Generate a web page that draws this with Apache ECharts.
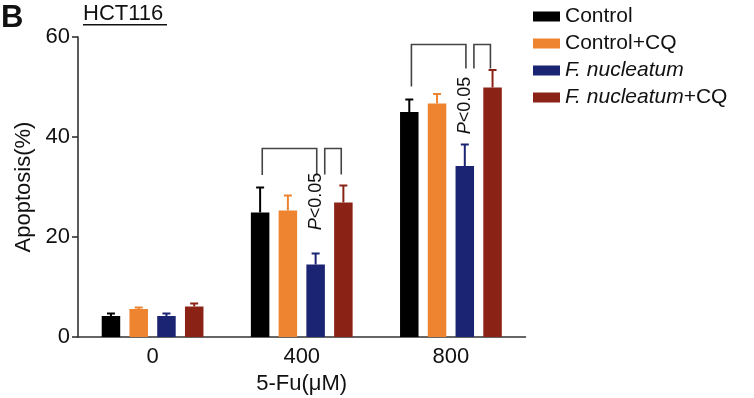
<!DOCTYPE html>
<html>
<head>
<meta charset="utf-8">
<title>HCT116 apoptosis</title>
<script src="https://cdn.jsdelivr.net/npm/echarts@6/dist/echarts.min.js"></script>
<style>
    html, body { margin: 0; padding: 0; background: #fff; }
    #chart { width: 754px; height: 398px; }
</style>
</head>
<body>
<div id="chart"></div>
<script>
// 数据
var categories = ['0', '400', '800'];
var seriesNames = ['Control', 'Control+CQ', 'F. nucleatum', 'F. nucleatum+CQ'];
var control     = [4.2, 24.9, 45.0];
var controlCQ   = [5.6, 25.3, 46.7];
var fn          = [4.2, 14.5, 34.2];
var fnCQ        = [6.1, 26.9, 49.9];
// 误差（只画上半部分）
var controlErr   = [0.5, 5.0, 2.5];
var controlCQErr = [0.3, 3.0, 1.9];
var fnErr        = [0.5, 2.2, 4.3];
var fnCQErr      = [0.6, 3.4, 3.5];
var yTicks = [0, 20, 40, 60];

// 显著性括号（400 和 800 两组）
var bracketCats   = [1, 2];
var bracketTop    = [37.7, 58.5];
var bigLeftEnd    = [32.4, 50.1];
var bigRightEnd   = [32.5, 53.7];
var smallEnd      = [32.5, 53.7];
var pLabelMid     = [27.1, 46.3];
var pLabel = 'P<0.05';

var values = [control, controlCQ, fn, fnCQ];
var errors = [controlErr, controlCQErr, fnErr, fnCQErr];
var colors = ['#000000', '#EE8430', '#1B2473', '#8A2215'];

var FONT = 'Liberation Sans, Arial, Helvetica, sans-serif';
var BAR_W = 18.5;
var SLOT = BAR_W * 1.5;   // 柱宽 + 柱间距 (barGap 50%)

var chart = echarts.init(document.getElementById('chart'));

// 误差线数据
var errData = [];
values.forEach(function (vals, k) {
    vals.forEach(function (v, i) {
        errData.push([i, k, v, v + errors[k][i]]);
    });
});

// 括号数据
var bracketData = [];
bracketCats.forEach(function (c, j) {
    bracketData.push([c, bracketTop[j], bigLeftEnd[j], bigRightEnd[j], 0]);
    bracketData.push([c, bracketTop[j], smallEnd[j], smallEnd[j], 1]);
});
var pData = bracketCats.map(function (c, j) { return [c, pLabelMid[j]]; });

function renderErr(params, api) {
    var cat = api.value(0), k = api.value(1);
    var base = api.coord([cat, api.value(2)]);
    var top = api.coord([cat, api.value(3)]);
    var x = base[0] + (k - 1.5) * SLOT;
    var st = { stroke: colors[k], lineWidth: 2 };
    return {
        type: 'group',
        children: [
            { type: 'line', shape: { x1: x, y1: base[1], x2: x, y2: top[1] }, style: st },
            { type: 'line', shape: { x1: x - 4, y1: top[1], x2: x + 4, y2: top[1] }, style: st }
        ]
    };
}

function renderBracket(params, api) {
    var cat = api.value(0);
    var c = api.coord([cat, api.value(1)]);
    var yl = api.coord([cat, api.value(2)])[1];
    var yr = api.coord([cat, api.value(3)])[1];
    var small = api.value(4) === 1;
    var xl = c[0] + (small ? 23 : -39.5);
    var xr = c[0] + (small ? 39.5 : 15);
    return {
        type: 'polyline',
        shape: { points: [[xl, yl], [xl, c[1]], [xr, c[1]], [xr, yr]] },
        style: { stroke: '#444', lineWidth: 1.6, fill: null }
    };
}

function renderP(params, api) {
    var c = api.coord([api.value(0), api.value(1)]);
    return {
        type: 'text',
        x: c[0] + 14.5,
        y: c[1],
        rotation: Math.PI / 2,
        style: {
            text: '{p|P}{n|' + pLabel.slice(1) + '}',
            align: 'center',
            verticalAlign: 'middle',
            fill: '#111',
            fontSize: 18,
            fontFamily: FONT,
            rich: {
                p: { fontStyle: 'italic', fontSize: 18, fontFamily: FONT, fill: '#111' },
                n: { fontSize: 18, fontFamily: FONT, fill: '#111' }
            }
        }
    };
}

var barSeries = seriesNames.map(function (name, k) {
    return {
        name: name,
        type: 'bar',
        data: values[k],
        barWidth: BAR_W,
        barGap: '50%',
        itemStyle: { color: colors[k] },
        silent: true
    };
});

var option = {
    animation: false,
    textStyle: { fontFamily: FONT },
    grid: { left: 78, top: 37, width: 447.5, height: 300, outerBoundsMode: 'none' },
    legend: {
        orient: 'vertical',
        left: 528,
        top: 1,
        itemWidth: 27,
        itemHeight: 10,
        itemGap: 6,
        icon: 'rect',
        data: seriesNames,
        formatter: function (name) {
            if (name.indexOf('F. nucleatum') === 0) {
                return '{i|F. nucleatum}' + name.slice(12);
            }
            return name;
        },
        textStyle: {
            fontSize: 21,
            lineHeight: 21,
            color: '#111',
            fontFamily: FONT,
            rich: {
                i: { fontStyle: 'italic', fontSize: 21, lineHeight: 21, color: '#111', fontFamily: FONT }
            }
        }
    },
    graphic: [
        { type: 'text', left: 1, top: 3, style: { text: 'B', fontSize: 31, fontWeight: 'bold', fontFamily: FONT, fill: '#111' } },
        { type: 'text', left: 83, top: 3, style: { text: 'HCT116', fontSize: 22, fontFamily: FONT, fill: '#111' } },
        { type: 'rect', left: 83, top: 24, shape: { width: 84, height: 1.5 }, style: { fill: '#111' } }
    ],
    xAxis: {
        type: 'category',
        data: categories,
        name: '5-Fu(μM)',
        nameLocation: 'middle',
        nameGap: 36,
        nameTextStyle: { fontSize: 22, color: '#111', fontFamily: FONT },
        axisLine: { lineStyle: { color: '#333', width: 1.6 } },
        axisTick: { alignWithLabel: true, length: 6, lineStyle: { color: '#333', width: 1.6 } },
        axisLabel: { fontSize: 22, color: '#111', margin: 9, fontFamily: FONT }
    },
    yAxis: {
        type: 'value',
        min: yTicks[0],
        max: yTicks[yTicks.length - 1],
        interval: yTicks[1] - yTicks[0],
        name: 'Apoptosis(%)',
        nameLocation: 'middle',
        nameGap: 43,
        nameTextStyle: { fontSize: 22, color: '#111', fontFamily: FONT },
        axisLine: { show: true, lineStyle: { color: '#333', width: 1.6 } },
        axisTick: { show: true, length: 6, lineStyle: { color: '#333', width: 1.6 } },
        axisLabel: { fontSize: 22, color: '#111', margin: 8, fontFamily: FONT },
        splitLine: { show: false }
    },
    series: barSeries.concat([
        { type: 'custom', renderItem: renderErr, data: errData, silent: true, z: 3,
          encode: { x: 0, y: [2, 3] } },
        { type: 'custom', renderItem: renderBracket, data: bracketData, silent: true, z: 3,
          encode: { x: 0, y: [1, 2, 3] } },
        { type: 'custom', renderItem: renderP, data: pData, silent: true, z: 3,
          encode: { x: 0, y: 1 } }
    ])
};

chart.setOption(option);
</script>
</body>
</html>
